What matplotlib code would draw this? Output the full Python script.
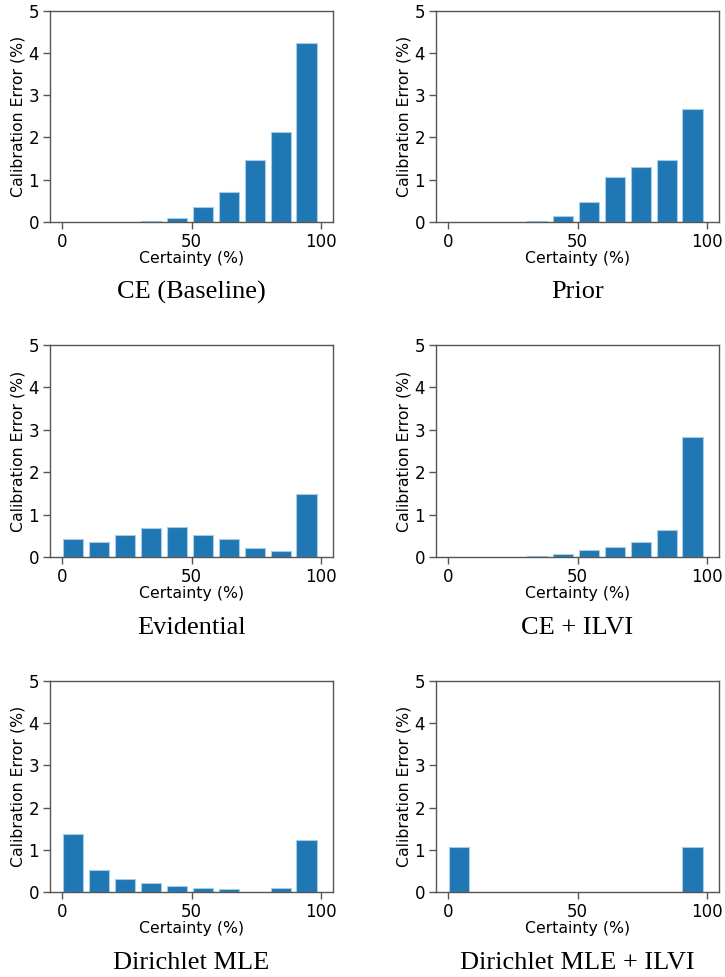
import numpy as np
import matplotlib
matplotlib.use("Agg")
import matplotlib.pyplot as plt

bin_left = [0, 10, 20, 30, 40, 50, 60, 70, 80, 90]
titles = ["CE (Baseline)", "Prior", "Evidential", "CE + ILVI",
          "Dirichlet MLE", "Dirichlet MLE + ILVI"]
ce_baseline = [0, 0, 0, 0.02, 0.10, 0.35, 0.71, 1.46, 2.13, 4.24]
prior = [0, 0, 0, 0.03, 0.15, 0.47, 1.06, 1.31, 1.46, 2.67]
evidential = [0.42, 0.35, 0.53, 0.69, 0.71, 0.53, 0.42, 0.22, 0.13, 1.49]
ce_ilvi = [0, 0, 0, 0.02, 0.08, 0.17, 0.24, 0.35, 0.63, 2.84]
dirichlet_mle = [1.38, 0.53, 0.30, 0.21, 0.14, 0.10, 0.06, 0, 0.09, 1.24]
dirichlet_mle_ilvi = [1.07, 0, 0, 0, 0, 0, 0, 0, 0, 1.07]
series = [ce_baseline, prior, evidential, ce_ilvi, dirichlet_mle, dirichlet_mle_ilvi]

fig = plt.figure(figsize=(7.25, 9.77), dpi=100)

W, H = 725, 977
cols = [(50, 333), (436, 719)]
rows = [(10.7, 222), (345, 557), (681, 892)]
title_y = [292, 628, 963]

spine_color = "#555555"
for k, (vals, title) in enumerate(zip(series, titles)):
    r, c = divmod(k, 2)
    x0, x1 = cols[c]
    t, b = rows[r]
    ax = fig.add_axes([x0 / W, 1 - b / H, (x1 - x0) / W, (b - t) / H])
    xs = np.array(bin_left) + 0.5
    ax.bar(xs, vals, width=7.8, align="edge", color="#1f77b4",
           edgecolor="#a9cbe3", linewidth=0.8)
    ax.set_xlim(-4.6, 104.6)
    ax.set_ylim(0, 5)
    ax.set_xticks([0, 50, 100])
    ax.set_yticks([0, 1, 2, 3, 4, 5])
    for s in ax.spines.values():
        s.set_color(spine_color)
        s.set_linewidth(1.0)
    ax.tick_params(axis="both", length=5, width=1.0, color=spine_color,
                   labelsize=12, pad=3)
    ax.set_xlabel("Certainty (%)", fontsize=11.3, labelpad=0)
    ax.set_ylabel("Calibration Error (%)", fontsize=11.3, labelpad=2)
    fig.text((x0 + x1) / 2 / W, 1 - title_y[r] / H, title,
             ha="center", va="center", fontsize=19,
             family=["Liberation Serif", "DejaVu Serif"])

fig.savefig("out.png", dpi=100)
